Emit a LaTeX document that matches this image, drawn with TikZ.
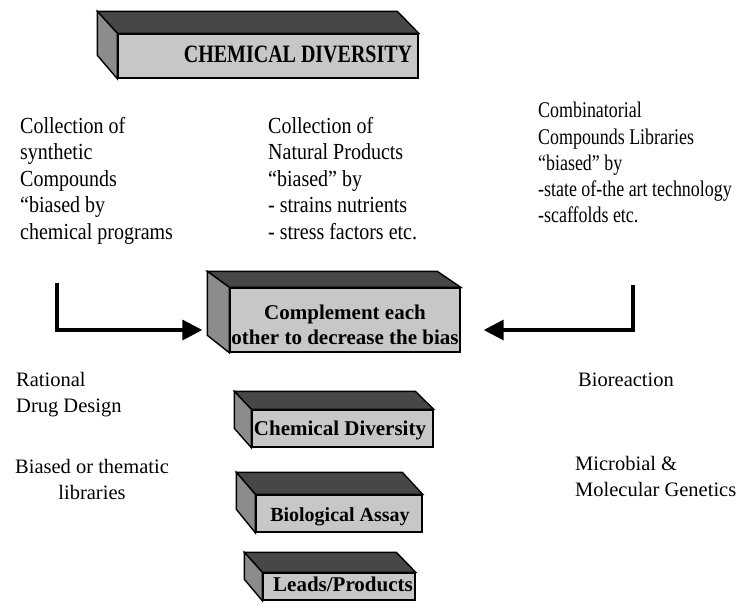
\documentclass[tikz,border=0pt]{standalone}
\usepackage{fontspec}
\setmainfont{Liberation Serif}
\newfontfamily\narrowfont{Liberation Serif}[FakeStretch=0.87]
\newfontfamily\rightfont{Liberation Serif}[FakeStretch=0.8]
\newfontfamily\titlefont{Liberation Serif}[FakeStretch=0.8]
\usetikzlibrary{arrows.meta,calc}
\begin{document}
\begin{tikzpicture}[x=1pt,y=-1pt,
  front/.style={draw=black, line width=1.4pt, fill=black!22, inner sep=0pt},
  topface/.style={draw=black, line width=1.4pt, fill=black!72},
  sideface/.style={draw=black, line width=1.4pt, fill=black!45},
  lbl/.style={font=\narrowfont\fontsize{23}{26.5}\selectfont, align=left, anchor=north west, inner sep=0pt},
  blbl/.style={font=\fontsize{20.5}{26}\selectfont, inner sep=0pt},
  boxtext/.style={font=\bfseries\fontsize{21}{25}\selectfont, inner sep=0pt, align=center},
  conn/.style={line width=3.5pt, -{Triangle[length=20pt,width=20pt]}}]
\useasboundingbox (0,0) rectangle (741,608);

% title banner
\node[front, minimum width=300pt, minimum height=44pt] (tt) at (268,56) {};
\draw[topface] (tt.north west) -- ++(-20,-22) -- ++(300,0) -- (tt.north east) -- cycle;
\draw[sideface] (tt.north west) -- ++(-20,-22) -- ++(0,44) -- (tt.south west) -- cycle;
\node[inner sep=0pt, font=\titlefont\bfseries\fontsize{25}{25}\selectfont] (ttl) at (298,54) {CHEMICAL DIVERSITY};

% upper columns
\node[lbl] (c1) at (20,117) {Collection of\\synthetic\\Compounds\\“biased by\\chemical programs};
\node[lbl] (c2) at (268,117) {Collection of\\Natural Products\\“biased” by\\- strains nutrients\\- stress factors etc.};
\node[lbl, font=\rightfont\fontsize{22.4}{26.3}\selectfont] (c3) at (538,102) {Combinatorial\\Compounds Libraries\\“biased” by\\-state of-the art technology\\-scaffolds etc.};

% complement box
\node[front, minimum width=230pt, minimum height=64pt] (cmp) at (345,320) {};
\draw[topface] (cmp.north west) -- ++(-22,-16) -- ++(230,0) -- (cmp.north east) -- cycle;
\draw[sideface] (cmp.north west) -- ++(-22,-16) -- ++(0,64) -- (cmp.south west) -- cycle;
\node[boxtext] (cmpt) at (345,325) {Complement each\\other to decrease the bias};

% chemical diversity box
\node[front, minimum width=181pt, minimum height=37pt] (cd) at (342.5,428.5) {};
\draw[topface] (cd.north west) -- ++(-17,-18) -- ++(181,0) -- (cd.north east) -- cycle;
\draw[sideface] (cd.north west) -- ++(-17,-18) -- ++(0,37) -- (cd.south west) -- cycle;
\node[boxtext] (cdt) at (340,430) {Chemical Diversity};

% biological assay box
\node[front, minimum width=166pt, minimum height=37pt] (ba) at (339,513.5) {};
\draw[topface] (ba.north west) -- ++(-19,-22) -- ++(166,0) -- (ba.north east) -- cycle;
\draw[sideface] (ba.north west) -- ++(-19,-22) -- ++(0,37) -- (ba.south west) -- cycle;
\node[boxtext, font=\bfseries\fontsize{20}{25}\selectfont] (bat) at (340,517) {Biological Assay};

% leads box
\node[front, minimum width=152pt, minimum height=27pt] (lp) at (339,586.5) {};
\draw[topface] (lp.north west) -- ++(-18,-20) -- ++(152,0) -- (lp.north east) -- cycle;
\draw[sideface] (lp.north west) -- ++(-18,-20) -- ++(0,27) -- (lp.south west) -- cycle;
\node[boxtext] (lpt) at (343,584) {Leads/Products};

% arrows
\coordinate (l0) at (57,283);
\coordinate (r0) at (633,285);
\draw[conn] (l0) |- ([xshift=-27pt,yshift=-10pt]cmp.west);
\draw[conn] (r0) |- ([xshift=23pt,yshift=-10pt]cmp.east);

% lower labels
\node[blbl, align=left, anchor=north west] (rd) at (16,372) {Rational\\Drug Design};
\node[blbl, align=center, anchor=north] (bt) at (92,459) {Biased or thematic\\libraries};
\node[blbl, anchor=north west] (br) at (578,373) {Bioreaction};
\node[blbl, align=left, anchor=north west] (mg) at (575,456) {Microbial \&\\Molecular Genetics};
\end{tikzpicture}
\end{document}
